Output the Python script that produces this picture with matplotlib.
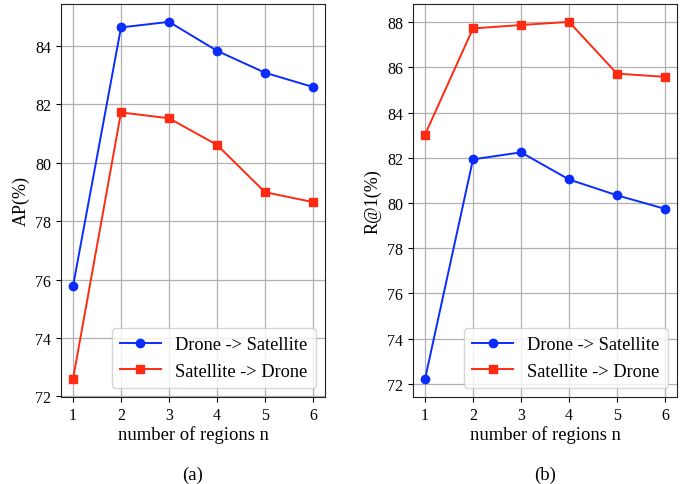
import matplotlib
matplotlib.use('Agg')
import matplotlib.pyplot as plt

plt.rcParams['font.family'] = ['Liberation Serif', 'DejaVu Serif']
plt.rcParams['mathtext.fontset'] = 'stix'

regions = [1, 2, 3, 4, 5, 6]

# AP (%)
ap_d2s = [75.77, 84.63, 84.82, 83.83, 83.08, 82.59]
ap_s2d = [72.59, 81.72, 81.52, 80.61, 78.99, 78.65]

# R@1 (%)
r1_d2s = [72.21, 81.93, 82.24, 81.04, 80.34, 79.74]
r1_s2d = [83.02, 87.72, 87.87, 88.01, 85.72, 85.58]

blue = '#0a2cff'
red = '#ff2a12'

fig = plt.figure(figsize=(6.93, 4.85), dpi=100)
ax1 = fig.add_axes([61 / 693, 1 - 398 / 485, 264 / 693, 393 / 485])
ax2 = fig.add_axes([413 / 693, 1 - 398 / 485, 264 / 693, 393 / 485])

panels = [
    (ax1, ap_d2s, ap_s2d, 'AP(%)', '(a)'),
    (ax2, r1_d2s, r1_s2d, 'R@1(%)', '(b)'),
]

for ax, d2s, s2d, ylabel, tag in panels:
    ax.plot(regions, d2s, color=blue, marker='o', markersize=6,
            linewidth=1.4, label='Drone -> Satellite')
    ax.plot(regions, s2d, color=red, marker='s', markersize=6,
            linewidth=1.4, label='Satellite -> Drone')
    ax.grid(True, color='#b0b0b0', linewidth=0.9)
    ax.set_axisbelow(True)
    ax.set_xticks(regions)
    ax.tick_params(labelsize=11.5)
    ax.set_ylabel(ylabel, fontsize=13)
    ax.set_xlabel('number of regions n', fontsize=13.4, labelpad=2)
    ax.legend(loc='lower right', fontsize=13.2, handlelength=2.2,
              borderpad=0.45, labelspacing=0.5)
    for s in ax.spines.values():
        s.set_color('#222222')
    ax.text(0.5, -0.175, tag, transform=ax.transAxes, ha='center',
            va='top', fontsize=13.5)

fig.savefig('out.png', dpi=100)
